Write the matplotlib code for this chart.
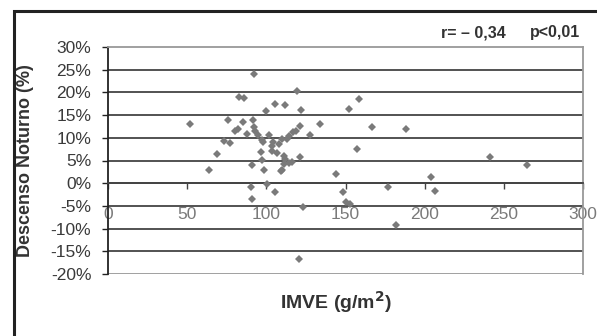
import matplotlib
matplotlib.use("Agg")
import matplotlib.pyplot as plt
from matplotlib.patches import Rectangle

plt.rcParams['font.family'] = ['Liberation Sans', 'DejaVu Sans']

# IMVE (g/m2) vs nocturnal dip (%)
imve = [52, 64, 69, 73, 77, 76, 83, 86, 80, 82, 85, 88, 92, 91.5, 92, 93, 95, 97,
        98, 91, 90, 91, 96.5, 97, 98.5, 100.5, 105.5, 100, 101.5, 105.5, 112,
        103.5, 106.5, 108, 104.5, 110, 111, 112, 111, 110, 116, 114, 117, 118.5,
        119.5, 120.5, 122, 121.5, 127.5, 134, 121, 123, 152.5, 158.5, 167, 188,
        157.5, 144, 148.5, 150.5, 153, 177, 182, 204, 206.5, 241.5, 264.5,
        113, 114.5, 103.5, 109]
descenso = [13.0, 2.9, 6.4, 9.4, 8.9, 14.0, 19.0, 18.7, 11.5, 12.0, 13.4, 10.9,
            24.0, 14.0, 12.4, 11.6, 10.6, 9.6, 9.0, 4.0, -0.8, -3.4, 6.9, 5.1,
            3.0, -0.1, -1.9, 16.0, 10.6, 17.5, 17.2, 7.0, 6.6, 8.7, 9.1, 9.7,
            6.0, 5.3, 4.3, 2.9, 4.7, 10.4, 11.2, 11.4, 20.2, -16.8, 16.2, 12.6,
            10.7, 13.0, 5.8, -5.3, 16.4, 18.5, 12.4, 11.9, 7.6, 2.0, -2.0, -4.2,
            -4.6, -0.8, -9.2, 1.4, -1.7, 5.7, 3.9, 9.8, 4.5, 8.3, 2.6]

x_ticks = [0, 50, 100, 150, 200, 250, 300]
y_ticks = [-20, -15, -10, -5, 0, 5, 10, 15, 20, 25, 30]

fig = plt.figure(figsize=(5.97, 3.36), dpi=100)
fig.patch.set_facecolor('white')

# outer frame (runs off the right and bottom edge)
fig.patches.append(Rectangle((14 / 597, -0.1), 1.0, 1 - 11 / 336 + 0.1,
                             transform=fig.transFigure, fill=False,
                             edgecolor='#222222', linewidth=2.2))

ax = fig.add_axes([108 / 597, 1 - 274 / 336, 475 / 597, 227 / 336])

for y in y_ticks[1:-1]:
    ax.axhline(y, color='#444444', linewidth=1.3, zorder=1)

ax.plot(imve, descenso, linestyle='none', marker='D', markersize=4.5,
        color='#7a7a7a', markeredgewidth=0, zorder=3)

ax.set_xlim(0, 300)
ax.set_ylim(-20, 30)
ax.set_xticks(x_ticks)
ax.set_yticks(y_ticks)
ax.set_yticklabels([f"{v}%" for v in y_ticks])

ax.spines['bottom'].set_position(('data', 0))
ax.spines['bottom'].set_color('#444444')
ax.spines['bottom'].set_linewidth(1.3)
ax.spines['left'].set_color('#222222')
ax.spines['left'].set_linewidth(1.3)
for s in ['top', 'right']:
    ax.spines[s].set_color('#999999')
    ax.spines[s].set_linewidth(1.3)
# bottom border of the plot area
ax.axhline(-20, color='#999999', linewidth=1.3, zorder=1)

ax.tick_params(axis='y', direction='out', length=4, width=1, colors='#222222',
               labelsize=12.5, labelcolor='#3a3a3a', pad=8)
ax.tick_params(axis='x', direction='out', length=4, width=1, colors='#444444',
               labelsize=12.5, labelcolor='#7a7a7a', pad=13)

ax.set_ylabel('Descenso Noturno (%)', fontsize=13, fontweight='bold',
              color='#333333')
ax.yaxis.set_label_coords(-0.155, 0.5)

fig.text(336 / 597, 1 - 302 / 336, 'IMVE (g/m$^\\mathbf{2}$)', ha='center',
         va='center', fontsize=14, fontweight='bold', color='#333333')
fig.text(506 / 597, 1 - 33 / 336, 'r= \u2013 0,34', ha='right',
         va='center', fontsize=11.5, fontweight='bold', color='#333333')
fig.text(580 / 597, 1 - 33 / 336, 'p<0,01', ha='right',
         va='center', fontsize=11.5, fontweight='bold', color='#333333')

fig.savefig('out.png', dpi=100)
